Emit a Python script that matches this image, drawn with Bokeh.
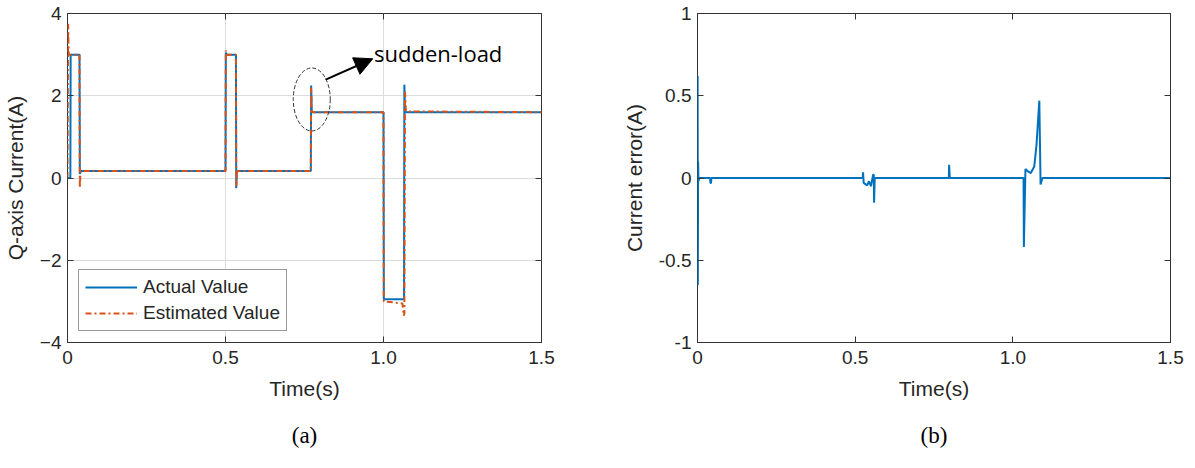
from bokeh.plotting import figure
from bokeh.layouts import row
from bokeh.models import (LinearAxis, FixedTicker, Legend, LegendItem, Label, Arrow,
                          NormalHead, Title, ColumnDataSource)
from bokeh.embed import file_html
from bokeh.resources import INLINE

# ---------------- data ----------------
x_ticks = [0, 0.5, 1.0, 1.5]
x_tick_labels = {0: "0", 0.5: "0.5", 1: "1.0", 1.5: "1.5"}
ya_ticks = [-4, -2, 0, 2, 4]
yb_ticks = [-1, -0.5, 0, 0.5, 1]
yb_tick_labels = {-1: "-1", -0.5: "-0.5", 0: "0", 0.5: "0.5", 1: "1"}

t_actual = [0.000, 0.009, 0.010, 0.038, 0.039, 0.042, 0.500, 0.501, 0.503, 0.533, 0.534,
            0.536, 0.770, 0.771, 0.773, 0.776, 1.000, 1.001, 1.005, 1.065, 1.066, 1.068,
            1.071, 1.500]
i_actual = [0.00, 0.00, 3.00, 3.00, 0.10, 0.17, 0.17, 3.05, 3.00, 3.00, -0.25,
            0.17, 0.17, 2.25, 1.62, 1.60, 1.60, -2.95, -2.95, -2.95, 2.27, 1.62,
            1.60, 1.60]

t_est = [0.000, 0.002, 0.004, 0.010, 0.038, 0.039, 0.041, 0.044, 0.500, 0.501, 0.503,
         0.533, 0.534, 0.537, 0.770, 0.771, 0.773, 0.776, 1.000, 1.001, 1.060, 1.064,
         1.066, 1.068, 1.071, 1.500]
i_est = [0.00, 3.75, 3.00, 3.00, 3.00, -0.25, 0.17, 0.17, 0.17, 3.10, 3.00,
         3.00, -0.20, 0.17, 0.17, 2.20, 1.62, 1.60, 1.60, -3.00, -3.05, -3.35,
         -3.30, 2.10, 1.62, 1.60]

t_err = [0.000, 0.0005, 0.001, 0.002, 0.003, 0.005, 0.040, 0.041, 0.043, 0.044,
         0.524, 0.525, 0.527, 0.538, 0.544, 0.550, 0.557, 0.559, 0.560, 0.562,
         0.797, 0.798, 0.800, 1.034, 1.035, 1.040, 1.048, 1.057, 1.068, 1.075,
         1.084, 1.088, 1.094, 1.500]
i_err = [0.00, 0.62, -0.65, 0.10, -0.02, 0.00, 0.00, -0.03, -0.03, 0.00,
         0.00, 0.035, -0.03, -0.045, -0.02, -0.05, 0.02, 0.02, -0.15, 0.00,
         0.00, 0.08, 0.00, 0.00, -0.42, 0.055, 0.04, 0.03, 0.07, 0.20,
         0.47, -0.04, 0.00, 0.00]

# annotation (data coordinates of panel a)
ell_t, ell_i = 0.773, 1.91
arrow_from = (0.817, 2.39)
arrow_to = (0.966, 2.90)
note_t, note_i = 0.97, 3.05

BLUE = "#0072BD"
ORANGE = "#D95319"
TXT = "#262626"
FONT = "Liberation Sans"


def style(p, yticks, ylabels=None, grid=True):
    p.xaxis.ticker = FixedTicker(ticks=x_ticks)
    p.xaxis.major_label_overrides = x_tick_labels
    p.yaxis.ticker = FixedTicker(ticks=yticks)
    if ylabels:
        p.yaxis.major_label_overrides = ylabels
    for ax in p.xaxis + p.yaxis:
        ax.major_tick_in = 6
        ax.major_tick_out = 0
        ax.minor_tick_line_color = None
        ax.axis_line_color = None
        ax.major_tick_line_color = "#333333"
        ax.major_label_text_font = FONT
        ax.major_label_text_font_size = "19px"
        ax.major_label_text_color = TXT
        ax.axis_label_text_font = FONT
        ax.axis_label_text_font_size = "21px"
        ax.axis_label_text_font_style = "normal"
        ax.axis_label_text_color = TXT
    p.xaxis.major_label_standoff = 8
    p.yaxis.major_label_standoff = 6
    p.xaxis.axis_label_standoff = 10
    p.yaxis.axis_label_standoff = 10
    # mirror ticks on top/right (MATLAB box)
    for loc in ("above", "right"):
        ax = LinearAxis(ticker=FixedTicker(ticks=x_ticks if loc == "above" else yticks))
        ax.major_label_text_font_size = "0px"
        ax.major_label_standoff = 0
        ax.major_tick_in = 6
        ax.major_tick_out = 0
        ax.minor_tick_line_color = None
        ax.axis_line_color = None
        ax.major_tick_line_color = "#333333"
        p.add_layout(ax, loc)
    p.outline_line_color = "#333333"
    p.outline_line_width = 1
    if grid:
        p.grid.grid_line_color = "#dcdcdc"
        p.grid.grid_line_width = 1
    else:
        p.grid.grid_line_color = None
    p.background_fill_color = "white"
    p.border_fill_color = "white"


def caption(p, text):
    p.add_layout(Title(text=text, align="center", text_font="Liberation Serif",
                       text_font_size="23px", text_font_style="normal", text_color="black",
                       standoff=36), "below")


# ---------------- panel (a) ----------------
pa = figure(width=597, height=468, x_range=(0, 1.5), y_range=(-4, 4),
            output_backend="svg", toolbar_location=None,
            min_border_left=67, min_border_right=56, min_border_top=13, min_border_bottom=126)
pa.xaxis.axis_label = "Time(s)"
pa.yaxis.axis_label = "Q-axis Current(A)"
style(pa, ya_ticks)

src_a = ColumnDataSource(dict(t=t_actual, i=i_actual))
src_e = ColumnDataSource(dict(t=t_est, i=i_est))
r_act = pa.line("t", "i", source=src_a, line_color=BLUE, line_width=2)
r_est = pa.line("t", "i", source=src_e, line_color=ORANGE, line_width=2, line_dash="6 3 2 3")

pa.ellipse(x=[ell_t], y=[ell_i], width=[37], height=[63],
           width_units="screen", height_units="screen",
           fill_color=None, line_color="#333333", line_dash="4 2", line_width=1)
pa.add_layout(Arrow(end=NormalHead(size=18, fill_color="black", line_color="black"),
                    x_start=arrow_from[0], y_start=arrow_from[1],
                    x_end=arrow_to[0], y_end=arrow_to[1],
                    line_color="black", line_width=2))
pa.add_layout(Label(x=note_t, y=note_i, text="sudden-load", text_font="Open Sans",
                    text_font_size="22px", text_color="black", text_baseline="middle"))

legend = Legend(items=[LegendItem(label="Actual Value", renderers=[r_act]),
                       LegendItem(label="Estimated Value", renderers=[r_est])],
                location="bottom_left")
legend.label_text_font = FONT
legend.label_text_font_size = "19px"
legend.label_text_color = TXT
legend.glyph_width = 52
legend.glyph_height = 20
legend.label_height = 20
legend.spacing = 4
legend.padding = 6
legend.margin = 11
legend.label_standoff = 6
legend.border_line_color = "#333333"
legend.border_line_width = 1
legend.background_fill_color = "white"
legend.background_fill_alpha = 1
pa.add_layout(legend)
caption(pa, "(a)")

# ---------------- panel (b) ----------------
pb = figure(width=598, height=468, x_range=(0, 1.5), y_range=(-1, 1),
            output_backend="svg", toolbar_location=None,
            min_border_left=100, min_border_right=25, min_border_top=13, min_border_bottom=123)
pb.xaxis.axis_label = "Time(s)"
pb.yaxis.axis_label = "Current error(A)"
style(pb, yb_ticks, yb_tick_labels, grid=False)
src_r = ColumnDataSource(dict(t=t_err, i=i_err))
pb.line("t", "i", source=src_r, line_color=BLUE, line_width=2)
caption(pb, "(b)")

layout = row(pa, pb, spacing=0)
open("out.html", "w").write(file_html(layout, INLINE))
